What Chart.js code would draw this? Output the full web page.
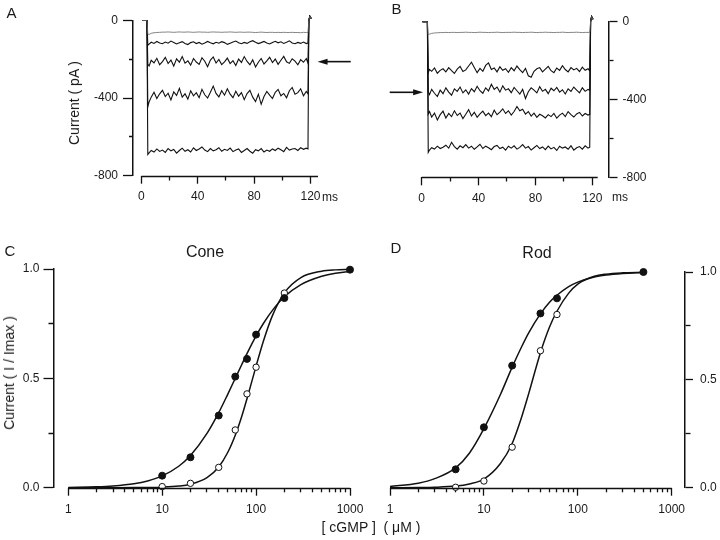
<!DOCTYPE html>
<html>
<head>
<meta charset="utf-8">
<script src="https://cdn.jsdelivr.net/npm/chart.js@4.4.1/dist/chart.umd.min.js"></script>
<style>
body { margin: 0; background: #fff; }
#fig { position: relative; width: 720px; height: 540px; overflow: hidden;
       font-family: "Liberation Sans", Arial, Helvetica, sans-serif; color: #1a1a1a; }
#fig canvas { position: absolute; left: 0; top: 0; }
.t { position: absolute; white-space: pre; line-height: 1; transform: translate(-50%, -50%); }
.v { position: absolute; white-space: pre; line-height: 1; transform: translate(-50%, -50%) rotate(-90deg); }
</style>
</head>
<body>
<div id="fig">
  <canvas id="panelA" width="720" height="540"></canvas>
  <canvas id="panelB" width="720" height="540"></canvas>
  <canvas id="panelC" width="720" height="540"></canvas>
  <canvas id="panelD" width="720" height="540"></canvas>

  <div class="t" style="left:11.5px;top:11.5px;font-size:15px">A</div>
  <div class="t" style="left:396.5px;top:8px;font-size:15px">B</div>
  <div class="t" style="left:10px;top:250px;font-size:15px">C</div>
  <div class="t" style="left:396px;top:247px;font-size:15px">D</div>
  <div class="v" style="left:74px;top:103px;font-size:14px">Current ( pA )</div>
  <div class="t" style="left:330px;top:197px;font-size:12px">ms</div>
  <div class="t" style="left:620px;top:197px;font-size:12px">ms</div>
  <div class="t" style="left:205px;top:252px;font-size:16px">Cone</div>
  <div class="t" style="left:537px;top:253px;font-size:16px">Rod</div>
  <div class="v" style="left:9px;top:373px;font-size:14px">Current ( I / Imax )</div>
  <div class="t" style="left:371px;top:527px;font-size:14px">[ cGMP ]  ( μM )</div>
</div>

<script>
// time base of the current records (ms), shared by panels A and B
const T = [0.5, 4, 4.6, 5.5, 7, 9, 11, 13,
    15, 17, 19, 21, 23, 25, 27, 29,
    31, 33, 35, 37, 39, 41, 43, 45,
    47, 49, 51, 53, 55, 57, 59, 61,
    63, 65, 67, 69, 71, 73, 75, 77,
    79, 81, 83, 85, 87, 89, 91, 93,
    95, 97, 99, 101, 103, 105, 107, 109,
    111, 113, 115, 117, 118.2, 118.8, 119.5, 120.5];

// panel A records (pA)
const A_TRACE_1 = [0, 0, -70, -72, -66, -63, -62, -61,
    -60, -60, -59, -60, -61, -60, -59, -60,
    -60, -59, -60, -61, -60, -59, -60, -60,
    -61, -60, -59, -60, -60, -61, -60, -60,
    -59, -60, -61, -60, -60, -61, -60, -60,
    -61, -62, -61, -60, -61, -62, -61, -61,
    -62, -61, -62, -61, -62, -62, -61, -62,
    -62, -63, -61, -62, -62, 0, 22, 10];
const A_TRACE_2 = [0, 0, -128, -122, -112, -118, -108, -116,
    -120, -111, -117, -106, -113, -121, -115, -109,
    -118, -124, -114, -110, -119, -113, -122, -116,
    -108, -115, -120, -112, -117, -109, -114, -123,
    -117, -111, -106, -115, -120, -113, -118, -110,
    -104, -112, -119, -114, -108, -116, -121, -113,
    -107, -115, -110, -118, -112, -105, -116, -120,
    -113, -118, -111, -119, -116, 0, 22, 10];
const A_TRACE_3 = [0, 0, -225, -235, -205, -218, -195, -228,
    -212, -190, -222, -204, -235, -198, -215, -186,
    -220, -208, -230, -196, -214, -226, -192, -210,
    -238, -204, -188, -219, -201, -227, -213, -194,
    -222, -207, -232, -199, -216, -186, -211, -228,
    -203, -240, -215, -196, -224, -208, -190, -217,
    -199, -226, -205, -185, -213, -221, -197, -209,
    -228, -202, -215, -196, -220, 0, 22, 10];
const A_TRACE_4 = [0, 0, -445, -420, -395, -370, -402, -378,
    -360, -392, -375, -410, -368, -386, -350, -395,
    -378, -405, -362, -388, -372, -398, -355, -383,
    -400, -370, -338, -376, -394, -362, -385, -352,
    -380, -398, -365, -390, -372, -408, -377, -360,
    -395, -418, -380, -432, -392, -366, -385, -402,
    -370, -355, -388, -376, -398, -362, -345, -380,
    -372, -352, -388, -366, -378, 0, 22, 10];
const A_TRACE_5 = [0, 0, -690, -682, -670, -678, -662, -675,
    -668, -680, -660, -672, -665, -684, -670, -658,
    -674, -666, -678, -656, -670, -662, -652, -668,
    -676, -660, -672, -666, -656, -674, -664, -670,
    -658, -676, -668, -662, -680, -670, -660, -674,
    -684, -666, -672, -660, -678, -668, -674, -662,
    -670, -658, -666, -676, -654, -668, -662, -660,
    -670, -656, -664, -658, -662, 0, 22, 10];

// panel B records (pA)
const B_TRACE_1 = [0, 0, -68, -64, -60, -58, -57, -56,
    -56, -55, -56, -55, -55, -56, -55, -55,
    -54, -55, -55, -56, -55, -54, -55, -55,
    -56, -55, -55, -54, -55, -56, -55, -55,
    -55, -54, -55, -55, -56, -55, -55, -54,
    -55, -56, -55, -55, -54, -55, -55, -56,
    -55, -55, -54, -55, -56, -55, -55, -54,
    -55, -56, -55, -55, -55, 0, 26, 12];
const B_TRACE_2 = [0, 0, -262, -245, -255, -238, -265, -250,
    -242, -258, -236, -252, -266, -244, -230, -256,
    -248, -228, -208, -235, -262, -240, -255, -225,
    -212, -246, -238, -258, -232, -250, -242, -260,
    -236, -252, -228, -246, -262, -240, -278, -286,
    -255, -242, -236, -258, -244, -230, -252, -262,
    -238, -250, -226, -246, -258, -236, -248, -240,
    -256, -234, -250, -242, -252, 0, 26, 12];
const B_TRACE_3 = [0, 0, -360, -375, -348, -368, -385, -352,
    -370, -340, -362, -378, -345, -358, -336, -366,
    -350, -372, -344, -360, -332, -355, -368, -340,
    -356, -322, -348, -336, -362, -330, -352, -345,
    -365, -338, -355, -372, -348, -395, -360, -340,
    -352, -366, -334, -358, -348, -370, -342, -355,
    -338, -362, -350, -372, -345, -358, -336, -352,
    -366, -340, -358, -348, -352, 0, 26, 12];
const B_TRACE_4 = [0, 0, -475, -462, -490, -470, -505, -478,
    -460, -495, -472, -488, -458, -482, -470, -498,
    -476, -452, -485, -466, -492, -474, -460, -483,
    -470, -488, -455, -478, -465, -448, -472, -458,
    -480, -462, -436, -458, -450, -475, -462, -485,
    -470, -492, -476, -484, -495, -478, -488, -472,
    -496, -480, -470, -488, -462, -478, -490, -474,
    -466, -485, -472, -480, -476, 0, 26, 12];
const B_TRACE_5 = [0, 0, -672, -660, -648, -655, -640, -652,
    -645, -635, -650, -620, -642, -655, -638, -648,
    -632, -650, -640, -656, -644, -630, -652, -640,
    -648, -658, -642, -636, -652, -645, -660, -640,
    -650, -638, -655, -646, -632, -650, -642, -660,
    -648, -636, -652, -644, -658, -640, -654, -646,
    -662, -640, -650, -644, -656, -638, -660, -648,
    -642, -655, -638, -650, -645, 0, 26, 12];

// axis ticks
const TIME_TICKS = [0, 20, 40, 60, 80, 100, 120];
const TIME_LABELS = [0, 40, 80, 120];
const CURRENT_TICKS = [-800, -600, -400, -200, 0];
const CURRENT_LABELS = [-800, -400, 0];
const CGMP_TICKS = [1, 2, 3, 4, 5, 6, 7, 8, 9, 10, 20, 30, 40, 50, 60, 70, 80, 90,
    100, 200, 300, 400, 500, 600, 700, 800, 900, 1000];
const CGMP_LABELS = [1, 10, 100, 1000];
const NORM_TICKS = [0, 0.25, 0.5, 0.75, 1];
const NORM_LABELS = [0, 0.5, 1];

// panel C: cone channel dose-response (I/Imax)
const CONE_X = [10, 20, 40, 60, 80, 100, 200, 1000];
const CONE_FILLED = [0.055, 0.139, 0.33, 0.508, 0.589, 0.70, 0.867, 0.997];
const CONE_OPEN_X = [10, 20, 40, 60, 80, 100, 200];
const CONE_OPEN = [0.005, 0.02, 0.093, 0.264, 0.429, 0.551, 0.89];
const CONE_FIT_X = [1, 2, 3, 5, 7, 10, 15, 20, 30, 40, 50, 60, 70, 80, 100, 120, 150, 200, 300, 500, 700, 1000];
const CONE_FIT_FILLED = [0.001, 0.004, 0.008, 0.018, 0.031, 0.054, 0.098, 0.147, 0.248, 0.343, 0.428, 0.5,
    0.561, 0.613, 0.694, 0.752, 0.812, 0.873, 0.929, 0.967, 0.981, 0.989];
const CONE_FIT_OPEN = [0, 0, 0.0001, 0.0004, 0.001, 0.0025, 0.0074, 0.016, 0.046, 0.095, 0.162, 0.24,
    0.323, 0.407, 0.556, 0.672, 0.789, 0.891, 0.961, 0.99, 0.996, 0.998];

// panel D: rod channel dose-response (I/Imax)
const ROD_X = [5, 10, 20, 40, 60, 500];
const ROD_FILLED = [0.085, 0.28, 0.566, 0.808, 0.878, 1.0];
const ROD_OPEN_X = [5, 10, 20, 40, 60];
const ROD_OPEN = [0.002, 0.031, 0.188, 0.635, 0.803];
const ROD_FIT_X = [1, 2, 3, 5, 7, 10, 15, 20, 25, 30, 40, 50, 60, 80, 100, 150, 200, 300, 500];
const ROD_FIT_FILLED = [0.006, 0.021, 0.042, 0.092, 0.160, 0.274, 0.432, 0.559, 0.650, 0.718, 0.806, 0.860,
    0.892, 0.932, 0.953, 0.977, 0.986, 0.993, 0.998];
const ROD_FIT_OPEN = [0.0001, 0.0007, 0.002, 0.0074, 0.0175, 0.040, 0.112, 0.205, 0.322, 0.436, 0.626, 0.745,
    0.818, 0.902, 0.944, 0.980, 0.990, 0.996, 0.999];

const INK = '#1a1a1a';
Chart.defaults.font.family = '"Liberation Sans", Arial, Helvetica, sans-serif';
Chart.defaults.color = INK;

function pts(xs, ys) {
    return xs.map((x, i) => ({ x: x, y: ys[i] }));
}

function trace(ys, light) {
    return {
        data: pts(T, ys), showLine: true, pointRadius: 0, tension: 0, clip: false,
        borderWidth: light ? 0.8 : 1.1, borderColor: light ? '#666' : '#111'
    };
}

function fitLine(xs, ys) {
    return {
        data: pts(xs, ys), showLine: true, pointRadius: 0, clip: false,
        cubicInterpolationMode: 'monotone', borderWidth: 1.5, borderColor: '#111'
    };
}

function dots(xs, ys, filled) {
    return {
        data: pts(xs, ys), showLine: false, clip: false,
        pointRadius: filled ? 3.5 : 3.2, pointBorderWidth: 1,
        pointBackgroundColor: filled ? '#111' : '#fff', pointBorderColor: '#111'
    };
}

// one axis: o = {type, position, min, max, ticks, labels, fmt, size, len, minor, pad, border}
function axis(o) {
    const vertical = o.position === 'left' || o.position === 'right';
    return {
        type: o.type || 'linear',
        position: o.position,
        min: o.min, max: o.max, bounds: 'data',
        afterBuildTicks: s => { s.ticks = o.ticks.map(v => ({ value: v })); },
        afterFit: s => { if (vertical) s.width = o.size; else s.height = o.size; },
        border: { display: o.border, color: '#111', width: 1.5 },
        grid: {
            drawOnChartArea: false, drawTicks: true, tickLength: o.len,
            tickColor: '#111', tickWidth: 1.3,
            // minor ticks are shorter: dash keeps only the part next to the axis line
            tickBorderDash: ctx => {
                if (o.labels.includes(ctx.tick.value)) return [];
                return o.position === 'left' ? [0, o.len - o.minor, o.minor, 50] : [o.minor, 50];
            }
        },
        ticks: {
            padding: o.pad, autoSkip: false, maxRotation: 0, color: INK, font: { size: 12 },
            callback: v => o.labels.includes(v) ? (o.fmt ? o.fmt(v) : String(v)) : ''
        }
    };
}

// x axis line that starts at a data value (gap to the y axis) and optional arrow
const axisLine = {
    id: 'axisLine',
    afterDraw(chart, args, o) {
        const ctx = chart.ctx, x = chart.scales.x, y = chart.scales.y;
        const yy = Math.round(chart.chartArea.bottom) + 0.5;
        ctx.save();
        ctx.strokeStyle = '#111';
        ctx.lineWidth = 1.5;
        ctx.beginPath();
        ctx.moveTo(x.getPixelForValue(o.from), yy);
        ctx.lineTo(x.getPixelForValue(o.to), yy);
        ctx.stroke();
        if (o.arrowAt !== undefined) {
            const x1 = x.getPixelForValue(o.arrowFrom), x2 = x.getPixelForValue(o.arrowTo);
            const ay = y.getPixelForValue(o.arrowAt);
            const dir = x2 > x1 ? 1 : -1;
            ctx.lineWidth = 1.6;
            ctx.beginPath();
            ctx.moveTo(x1, ay);
            ctx.lineTo(x2 - dir * 8, ay);
            ctx.stroke();
            ctx.fillStyle = '#111';
            ctx.beginPath();
            ctx.moveTo(x2, ay);
            ctx.lineTo(x2 - dir * 10, ay - 3);
            ctx.lineTo(x2 - dir * 10, ay + 3);
            ctx.closePath();
            ctx.fill();
        }
        ctx.restore();
    }
};

function panel(id, padding, scales, datasets, lineOpts) {
    return new Chart(document.getElementById(id), {
        type: 'scatter',
        data: { datasets: datasets },
        options: {
            responsive: false, animation: false, devicePixelRatio: 1, events: [],
            layout: { padding: padding },
            scales: scales,
            plugins: { legend: { display: false }, tooltip: { enabled: false }, axisLine: lineOpts }
        },
        plugins: [axisLine]
    });
}

// A
panel('panelA', { left: 83, right: 402, top: 20.5, bottom: 334.3 }, {
    x: axis({ position: 'bottom', min: -5.9, max: 125.3, ticks: TIME_TICKS, labels: TIME_LABELS,
        size: 30, len: 8, minor: 4.5, pad: 6, border: false }),
    y: axis({ position: 'left', min: -800, max: 0, ticks: CURRENT_TICKS, labels: CURRENT_LABELS,
        size: 50, len: 10, minor: 4, pad: 5, border: true })
}, [
    trace(A_TRACE_1, true), trace(A_TRACE_2), trace(A_TRACE_3), trace(A_TRACE_4), trace(A_TRACE_5)
], { from: 0, to: 125.3, arrowFrom: 148.5, arrowTo: 125, arrowAt: -212 });

// B
panel('panelB', { left: 421.7, right: 61.5, top: 21.7, bottom: 332.7 }, {
    x: axis({ position: 'bottom', min: 0, max: 131.4, ticks: TIME_TICKS, labels: TIME_LABELS,
        size: 30, len: 8, minor: 4.5, pad: 6, border: false }),
    y: axis({ position: 'right', min: -800, max: 0, ticks: CURRENT_TICKS, labels: CURRENT_LABELS,
        size: 50, len: 9, minor: 4, pad: 5, border: true })
}, [
    trace(B_TRACE_1, true), trace(B_TRACE_2), trace(B_TRACE_3), trace(B_TRACE_4), trace(B_TRACE_5)
], { from: 0, to: 123.8, arrowFrom: -22.5, arrowTo: 1, arrowAt: -363 });

// C
panel('panelC', { left: 13.5, right: 370, top: 269, bottom: 22.3 }, {
    x: axis({ type: 'logarithmic', position: 'bottom', min: 0.696, max: 1000, ticks: CGMP_TICKS,
        labels: CGMP_LABELS, size: 30, len: 8, minor: 4.3, pad: 7, border: false }),
    y: axis({ position: 'left', min: 0, max: 1, ticks: NORM_TICKS, labels: NORM_LABELS,
        fmt: v => v.toFixed(1), size: 40, len: 10, minor: 5, pad: 4, border: true })
}, [
    dots(CONE_X, CONE_FILLED, true), dots(CONE_OPEN_X, CONE_OPEN, false),
    fitLine(CONE_FIT_X, CONE_FIT_FILLED), fitLine(CONE_FIT_X, CONE_FIT_OPEN)
], { from: 1, to: 1000 });

// D
panel('panelD', { left: 390, right: 3, top: 272, bottom: 22.3 }, {
    x: axis({ type: 'logarithmic', position: 'bottom', min: 1, max: 1386, ticks: CGMP_TICKS,
        labels: CGMP_LABELS, size: 30, len: 8, minor: 4.3, pad: 7, border: false }),
    y: axis({ position: 'right', min: 0, max: 1, ticks: NORM_TICKS, labels: NORM_LABELS,
        fmt: v => v.toFixed(1), size: 32, len: 8, minor: 5, pad: 7, border: true })
}, [
    dots(ROD_X, ROD_FILLED, true), dots(ROD_OPEN_X, ROD_OPEN, false),
    fitLine(ROD_FIT_X, ROD_FIT_FILLED), fitLine(ROD_FIT_X, ROD_FIT_OPEN)
], { from: 1, to: 1000 });
</script>
</body>
</html>
